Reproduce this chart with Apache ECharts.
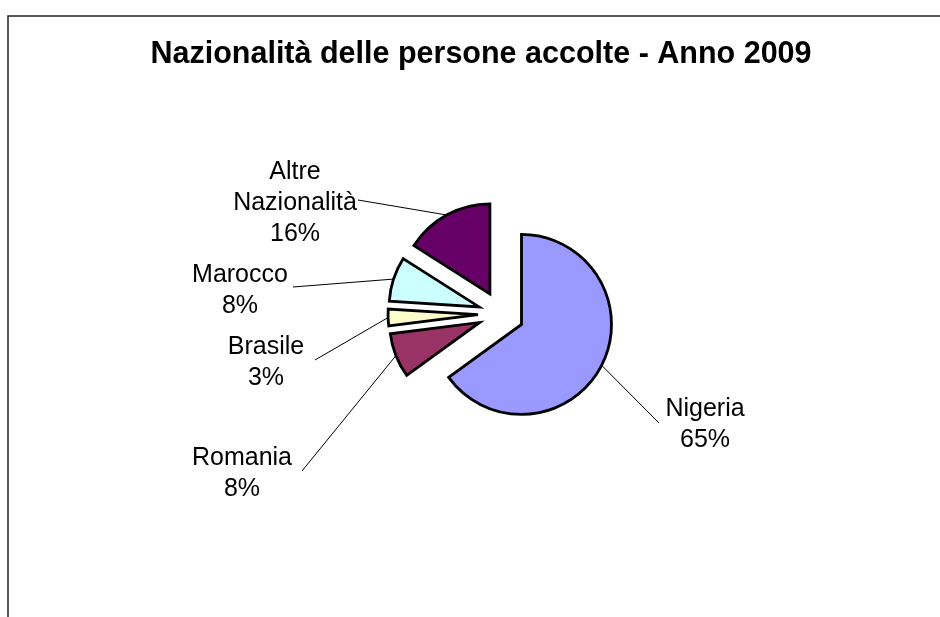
<!DOCTYPE html>
<html><head><meta charset="utf-8">
<script src="https://cdn.jsdelivr.net/npm/echarts@6/dist/echarts.min.js"></script>
<style>html,body{margin:0;padding:0;background:#fff}#c{width:940px;height:617px}</style>
</head><body><div id="c"></div>
<script>
// ---- data ----
const categories = ['Nigeria', 'Romania', 'Brasile', 'Marocco', 'Altre Nazionalità'];
const percentages = [65, 8, 3, 8, 16];
const colors = ['#9999FF', '#993366', '#FFFFCC', '#CCFFFF', '#660066'];
const chartTitle = 'Nazionalità delle persone accolte - Anno 2009';

// ---- layout ----
const CX = 501, CY = 314, R = 90, OFF = 23;
const labelPos = [[705, 425], [242, 474], [266, 363], [240, 291], [295, 203]];
const lineEnds = [[659, 423], [302, 471], [315, 360], [293, 287], [358, 200]];
const FONT = '25px "Liberation Sans", Arial, sans-serif';

const total = percentages.reduce((a, b) => a + b, 0);
const anchors = [];
let cum = 0;
percentages.forEach(v => {
  const th = 2 * Math.PI * (cum + v / 2) / total;
  cum += v;
  anchors.push([CX + (OFF + R) * Math.sin(th), CY - (OFF + R) * Math.cos(th)]);
});

const graphics = [
  {type: 'rect', shape: {x: 8, y: 16, width: 1000, height: 1000},
   style: {fill: 'none', stroke: '#222', lineWidth: 1.5}, silent: true, z: -1},
  {type: 'text', x: 481, y: 55,
   style: {text: chartTitle, fill: '#000', font: 'bold 30.5px "Liberation Sans", Arial, sans-serif',
           align: 'center', verticalAlign: 'middle'}}
];
categories.forEach((n, i) => {
  graphics.push({type: 'polyline', shape: {points: [anchors[i], lineEnds[i]]},
    style: {stroke: '#000', lineWidth: 1, fill: 'none'}, silent: true, z: 10});
  graphics.push({type: 'text', x: labelPos[i][0], y: labelPos[i][1], z: 10,
    style: {text: n.replace(' ', '\n') + '\n' + Math.round(percentages[i] / total * 100) + '%',
            font: FONT, lineHeight: 31, fill: '#000', align: 'center', verticalAlign: 'middle'}});
});

const chart = echarts.init(document.getElementById('c'), null, {renderer: 'canvas'});
chart.setOption({
  animation: false,
  backgroundColor: '#fff',
  graphic: graphics,
  series: [{
    type: 'pie',
    center: [CX, CY],
    radius: R,
    startAngle: 90,
    clockwise: true,
    selectedMode: 'multiple',
    selectedOffset: OFF,
    emphasis: {disabled: true},
    itemStyle: {borderColor: '#000', borderWidth: 2.8, borderJoin: 'miter'},
    label: {show: false},
    labelLine: {show: false},
    data: categories.map((n, i) => ({
      name: n, value: percentages[i], selected: true,
      itemStyle: {color: colors[i]}
    }))
  }]
});
</script></body></html>
